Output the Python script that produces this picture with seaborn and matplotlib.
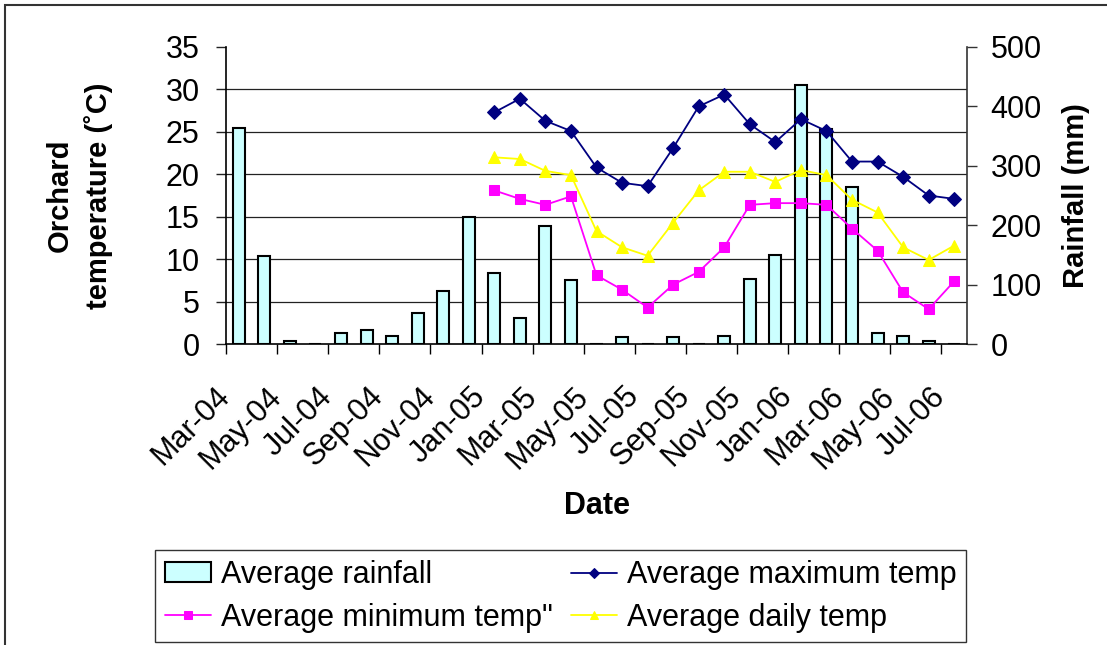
import numpy as np
import matplotlib
matplotlib.use("Agg")
import matplotlib.pyplot as plt
import matplotlib.transforms as mtransforms
import seaborn as sns
from matplotlib.ticker import FixedLocator
from matplotlib.patches import Rectangle

months = ["Mar-04", "Apr-04", "May-04", "Jun-04", "Jul-04", "Aug-04", "Sep-04",
          "Oct-04", "Nov-04", "Dec-04", "Jan-05", "Feb-05", "Mar-05", "Apr-05",
          "May-05", "Jun-05", "Jul-05", "Aug-05", "Sep-05", "Oct-05", "Nov-05",
          "Dec-05", "Jan-06", "Feb-06", "Mar-06", "Apr-06", "May-06", "Jun-06",
          "Jul-06"]
rainfall = [364, 148, 5, 0, 19, 24, 13, 52, 90, 214, 120, 44, 199, 107, 0,
            11, 0, 11, 0, 13, 109, 150, 436, 362, 264, 19, 13, 5, 0]

temp_months = months[10:]
max_temp = [27.3, 28.9, 26.3, 25.1, 20.8, 19.0, 18.6, 23.1, 28.0, 29.4,
            25.9, 23.8, 26.5, 25.1, 21.5, 21.5, 19.7, 17.5, 17.1]
min_temp = [18.1, 17.1, 16.4, 17.4, 8.1, 6.4, 4.3, 7.0, 8.5, 11.4,
            16.4, 16.6, 16.6, 16.4, 13.6, 11.0, 6.1, 4.1, 7.4]
daily_temp = [22.0, 21.8, 20.4, 19.9, 13.3, 11.4, 10.4, 14.3, 18.1, 20.3,
              20.3, 19.1, 20.5, 19.9, 17.0, 15.5, 11.4, 9.9, 11.6]

sns.set_theme(style="white")
plt.rcParams["font.family"] = ["Liberation Sans", "DejaVu Sans"]
plt.rcParams["text.color"] = "black"
plt.rcParams["axes.labelcolor"] = "black"
plt.rcParams["xtick.color"] = "black"
plt.rcParams["ytick.color"] = "black"
fs = 22

fig = plt.figure(figsize=(11.07, 6.45), dpi=100)
ax = fig.add_axes([226/1107, 1-344/645, 741/1107, 297/645])
ax2 = ax.twinx()

# rainfall bars on the right axis
sns.barplot(x=months, y=rainfall, ax=ax2, color="#CCFFFF", saturation=1,
            edgecolor="black", linewidth=1.5, width=0.47)
ax2.set_ylim(0, 500)
ax2.set_yticks([0, 100, 200, 300, 400, 500])
ax2.yaxis.set_minor_locator(FixedLocator(np.linspace(0, 500, 8)))
ax2.grid(which="minor", axis="y", color="#222222", lw=0.9)
ax2.grid(which="major", visible=False)
ax2.set_axisbelow(True)
ax2.tick_params(axis="y", which="major", direction="out", length=7, width=1,
                color="#333333", labelsize=fs, pad=10, right=True)
ax2.tick_params(axis="y", which="minor", length=0)
ax2.set_ylabel("Rainfall (mm)", fontsize=fs - 1, fontweight="bold")
ax2.yaxis.set_label_coords(1.128, 0.5)

# temperature lines on the left axis
pos = [months.index(m) for m in temp_months]
sns.lineplot(x=pos, y=max_temp, ax=ax, color="#000080", marker="D",
             markersize=7, markeredgecolor="#000080", lw=1.3,
             label="Average maximum temp")
sns.lineplot(x=pos, y=min_temp, ax=ax, color="#FF00FF", marker="s",
             markersize=7, markeredgecolor="#FF00FF", lw=1.3,
             label="Average minimum temp\"")
sns.lineplot(x=pos, y=daily_temp, ax=ax, color="#FFFF00", marker="^",
             markersize=8.5, markeredgecolor="#FFFF00", lw=1.3,
             label="Average daily temp")
ax.legend_.remove()

ax.set_zorder(ax2.get_zorder() + 1)
ax.patch.set_visible(False)

ax.set_ylim(0, 35)
ax.set_yticks(range(0, 36, 5))
ax.tick_params(axis="y", direction="out", length=7, width=1, color="#222222",
               labelsize=fs, pad=12, left=True)
ax.set_ylabel("Orchard\ntemperature (˚C)", fontsize=fs - 1, fontweight="bold",
              linespacing=1.45)
ax.yaxis.set_label_coords(-0.152, 0.5)

ax.set_xlim(-0.5, 28.5)
ax.set_xticks(np.arange(-0.5, 28, 2))
ax.set_xticklabels([])
ax.set_xticks(np.arange(0, 29, 2), months[::2], minor=True)
ax.tick_params(axis="x", which="major", direction="out", length=7, width=1,
               color="black", bottom=True)
ax.tick_params(axis="x", which="minor", length=0, labelsize=fs, pad=31)
shift = mtransforms.ScaledTranslation(-0.13, -0.05, fig.dpi_scale_trans)
for t in ax.get_xticklabels(minor=True):
    t.set_rotation(45)
    t.set_ha("right")
    t.set_va("center")
    t.set_rotation_mode("anchor")
    t.set_transform(t.get_transform() + shift)
ax.set_xlabel("Date", fontsize=fs, fontweight="bold")
ax.xaxis.set_label_coords(0.5, -0.495)

for a in (ax, ax2):
    a.spines["top"].set_visible(False)
ax.spines["right"].set_visible(False)
ax2.spines["left"].set_visible(False)
ax2.spines["bottom"].set_visible(False)
ax.spines["left"].set_color("black")
ax.spines["bottom"].set_color("black")
ax2.spines["right"].set_color("#333333")
ax.spines["left"].set_linewidth(1.2)
ax.spines["bottom"].set_linewidth(1.2)
ax2.spines["right"].set_linewidth(1.2)

bars = ax2.containers[0]
lines = ax.get_lines()
handles = [bars, lines[1], lines[0], lines[2]]
labels = ["Average rainfall", "Average minimum temp\"",
          "Average maximum temp", "Average daily temp"]
leg = fig.legend(handles, labels, ncol=2, loc="upper left",
                 bbox_to_anchor=(155/1107, 0.0, 811/1107, 1-550/645),
                 mode="expand", fontsize=fs, frameon=True, fancybox=False,
                 edgecolor="black", borderaxespad=0, handlelength=1.5,
                 handleheight=0.6, handletextpad=0.33, borderpad=0.32,
                 labelspacing=0.42, columnspacing=0.5)
leg.get_frame().set_linewidth(1)
for h in leg.legend_handles[1:]:
    h.set_markersize(5.5)

fig.add_artist(Rectangle((5/1107, -0.1), 1.2, 1.1 - 5/645, fill=False,
                         edgecolor="#333333", lw=1.5,
                         transform=fig.transFigure))

fig.savefig("out.png", dpi=100)
